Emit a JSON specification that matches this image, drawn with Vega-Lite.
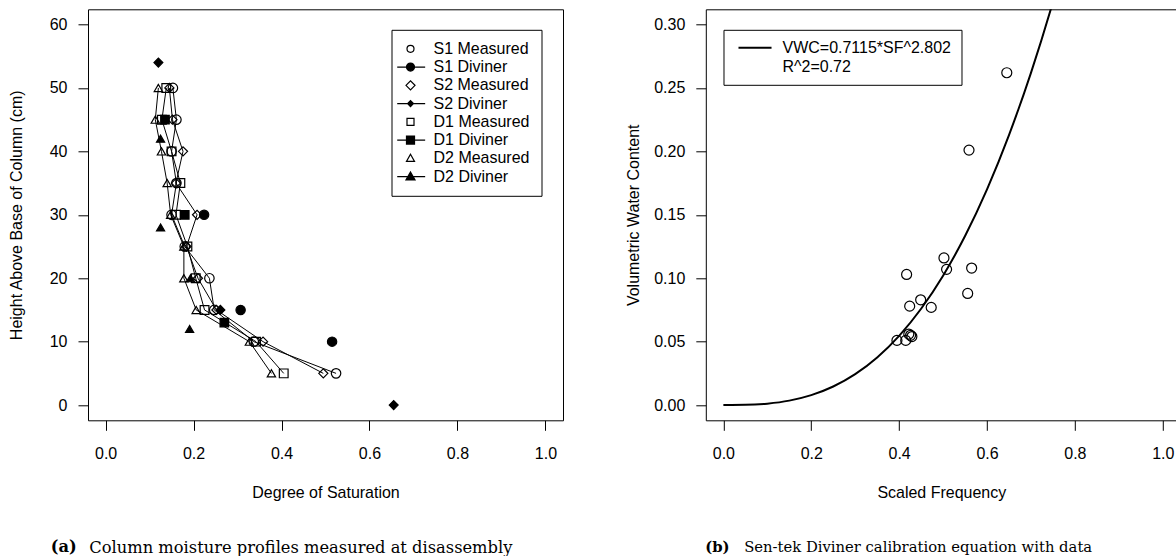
{
  "$schema": "https://vega.github.io/schema/vega-lite/v6.json",
  "background": "white",
  "padding": {"left": 7, "top": 8.3, "right": 0, "bottom": 0},
  "spacing": 60.8,
  "config": {
    "view": {"stroke": "black", "strokeWidth": 1},
    "font": "Liberation Sans",
    "axis": {"domain": false, "grid": false, "ticks": true, "tickColor": "black", "tickSize": 10, "tickWidth": 1, "labelColor": "black", "labelFont": "Liberation Sans", "labelFontSize": 16, "titleColor": "black", "titleFont": "Liberation Sans", "titleFontSize": 16, "titleFontWeight": "normal", "labelOverlap": false, "labelFlush": false, "domainColor": "black", "domainWidth": 1},
    "axisX": {"labelPadding": 15, "titlePadding": 23},
    "axisY": {"labelPadding": 11},
    "title": {"color": "black"}
  },
  "datasets": {
    "profiles": [
      {"series": "S1 Measured", "type": "Measured", "height": 50, "sat": 0.153},
      {"series": "S1 Measured", "type": "Measured", "height": 45, "sat": 0.161},
      {"series": "S1 Measured", "type": "Measured", "height": 40, "sat": 0.150},
      {"series": "S1 Measured", "type": "Measured", "height": 35, "sat": 0.161},
      {"series": "S1 Measured", "type": "Measured", "height": 30, "sat": 0.150},
      {"series": "S1 Measured", "type": "Measured", "height": 25, "sat": 0.180},
      {"series": "S1 Measured", "type": "Measured", "height": 20, "sat": 0.236},
      {"series": "S1 Measured", "type": "Measured", "height": 15, "sat": 0.247},
      {"series": "S1 Measured", "type": "Measured", "height": 10, "sat": 0.337},
      {"series": "S1 Measured", "type": "Measured", "height": 5, "sat": 0.524},
      {"series": "S2 Measured", "type": "Measured", "height": 50, "sat": 0.145},
      {"series": "S2 Measured", "type": "Measured", "height": 45, "sat": 0.152},
      {"series": "S2 Measured", "type": "Measured", "height": 40, "sat": 0.176},
      {"series": "S2 Measured", "type": "Measured", "height": 35, "sat": 0.160},
      {"series": "S2 Measured", "type": "Measured", "height": 30, "sat": 0.208},
      {"series": "S2 Measured", "type": "Measured", "height": 25, "sat": 0.184},
      {"series": "S2 Measured", "type": "Measured", "height": 20, "sat": 0.210},
      {"series": "S2 Measured", "type": "Measured", "height": 15, "sat": 0.252},
      {"series": "S2 Measured", "type": "Measured", "height": 10, "sat": 0.358},
      {"series": "S2 Measured", "type": "Measured", "height": 5, "sat": 0.495},
      {"series": "D1 Measured", "type": "Measured", "height": 50, "sat": 0.138},
      {"series": "D1 Measured", "type": "Measured", "height": 45, "sat": 0.128},
      {"series": "D1 Measured", "type": "Measured", "height": 40, "sat": 0.150},
      {"series": "D1 Measured", "type": "Measured", "height": 35, "sat": 0.170},
      {"series": "D1 Measured", "type": "Measured", "height": 30, "sat": 0.160},
      {"series": "D1 Measured", "type": "Measured", "height": 25, "sat": 0.186},
      {"series": "D1 Measured", "type": "Measured", "height": 20, "sat": 0.205},
      {"series": "D1 Measured", "type": "Measured", "height": 15, "sat": 0.225},
      {"series": "D1 Measured", "type": "Measured", "height": 10, "sat": 0.342},
      {"series": "D1 Measured", "type": "Measured", "height": 5, "sat": 0.405},
      {"series": "D2 Measured", "type": "Measured", "height": 50, "sat": 0.120},
      {"series": "D2 Measured", "type": "Measured", "height": 45, "sat": 0.113},
      {"series": "D2 Measured", "type": "Measured", "height": 40, "sat": 0.127},
      {"series": "D2 Measured", "type": "Measured", "height": 35, "sat": 0.140},
      {"series": "D2 Measured", "type": "Measured", "height": 30, "sat": 0.148},
      {"series": "D2 Measured", "type": "Measured", "height": 25, "sat": 0.178},
      {"series": "D2 Measured", "type": "Measured", "height": 20, "sat": 0.178},
      {"series": "D2 Measured", "type": "Measured", "height": 15, "sat": 0.206},
      {"series": "D2 Measured", "type": "Measured", "height": 10, "sat": 0.327},
      {"series": "D2 Measured", "type": "Measured", "height": 5, "sat": 0.377},
      {"series": "S1 Diviner", "type": "Diviner", "height": 30, "sat": 0.224},
      {"series": "S1 Diviner", "type": "Diviner", "height": 15, "sat": 0.307},
      {"series": "S1 Diviner", "type": "Diviner", "height": 10, "sat": 0.515},
      {"series": "S2 Diviner", "type": "Diviner", "height": 54, "sat": 0.120},
      {"series": "S2 Diviner", "type": "Diviner", "height": 15, "sat": 0.261},
      {"series": "S2 Diviner", "type": "Diviner", "height": 0, "sat": 0.655},
      {"series": "D1 Diviner", "type": "Diviner", "height": 45, "sat": 0.135},
      {"series": "D1 Diviner", "type": "Diviner", "height": 30, "sat": 0.180},
      {"series": "D1 Diviner", "type": "Diviner", "height": 13, "sat": 0.270},
      {"series": "D2 Diviner", "type": "Diviner", "height": 42, "sat": 0.125},
      {"series": "D2 Diviner", "type": "Diviner", "height": 28, "sat": 0.125},
      {"series": "D2 Diviner", "type": "Diviner", "height": 20, "sat": 0.193},
      {"series": "D2 Diviner", "type": "Diviner", "height": 12, "sat": 0.191}
    ],
    "curve": [
      {"sf": 0.00, "vwc": 0.0, "label": "VWC=0.7115*SF^2.802"},
      {"sf": 0.05, "vwc": 0.000161, "label": "VWC=0.7115*SF^2.802"},
      {"sf": 0.10, "vwc": 0.001123, "label": "VWC=0.7115*SF^2.802"},
      {"sf": 0.15, "vwc": 0.003496, "label": "VWC=0.7115*SF^2.802"},
      {"sf": 0.20, "vwc": 0.007828, "label": "VWC=0.7115*SF^2.802"},
      {"sf": 0.25, "vwc": 0.014628, "label": "VWC=0.7115*SF^2.802"},
      {"sf": 0.30, "vwc": 0.024382, "label": "VWC=0.7115*SF^2.802"},
      {"sf": 0.35, "vwc": 0.037552, "label": "VWC=0.7115*SF^2.802"},
      {"sf": 0.40, "vwc": 0.054600, "label": "VWC=0.7115*SF^2.802"},
      {"sf": 0.45, "vwc": 0.075938, "label": "VWC=0.7115*SF^2.802"},
      {"sf": 0.50, "vwc": 0.10202, "label": "VWC=0.7115*SF^2.802"},
      {"sf": 0.55, "vwc": 0.13326, "label": "VWC=0.7115*SF^2.802"},
      {"sf": 0.60, "vwc": 0.17005, "label": "VWC=0.7115*SF^2.802"},
      {"sf": 0.65, "vwc": 0.21280, "label": "VWC=0.7115*SF^2.802"},
      {"sf": 0.70, "vwc": 0.26190, "label": "VWC=0.7115*SF^2.802"},
      {"sf": 0.75, "vwc": 0.31777, "label": "VWC=0.7115*SF^2.802"},
      {"sf": 0.80, "vwc": 0.38075, "label": "VWC=0.7115*SF^2.802"}
    ],
    "calib": [
      {"sf": 0.645, "vwc": 0.262},
      {"sf": 0.559, "vwc": 0.201},
      {"sf": 0.502, "vwc": 0.116},
      {"sf": 0.508, "vwc": 0.107},
      {"sf": 0.565, "vwc": 0.108},
      {"sf": 0.417, "vwc": 0.103},
      {"sf": 0.556, "vwc": 0.088},
      {"sf": 0.449, "vwc": 0.083},
      {"sf": 0.424, "vwc": 0.078},
      {"sf": 0.473, "vwc": 0.077},
      {"sf": 0.395, "vwc": 0.051},
      {"sf": 0.415, "vwc": 0.051},
      {"sf": 0.422, "vwc": 0.056},
      {"sf": 0.426, "vwc": 0.055},
      {"sf": 0.429, "vwc": 0.054}
    ]
  },
  "hconcat": [
    {
      "title": {"text": "Column moisture profiles measured at disassembly", "orient": "bottom", "anchor": "start", "frame": "bounds", "dx": 81.6, "offset": -3.5, "baseline": "alphabetic", "font": "DejaVu Serif", "fontSize": 16.3, "fontWeight": "normal", "color": "black"},
      "vconcat": [
        {
          "width": 475,
          "height": 411,
          "data": {"name": "profiles"},
          "title": {"text": "(a)", "orient": "bottom", "anchor": "start", "frame": "bounds", "dx": 42.6, "offset": 52, "baseline": "alphabetic", "font": "DejaVu Serif", "fontSize": 16.3, "fontWeight": "bold", "color": "black"},
          "layer": [
            {
              "transform": [{"filter": "datum.type === 'Measured'"}],
              "mark": {"type": "line", "stroke": "black", "strokeWidth": 1, "clip": true},
              "encoding": {
                "x": {"field": "sat", "type": "quantitative", "title": "Degree of Saturation", "scale": {"domain": [-0.04, 1.04], "nice": false, "zero": false}, "axis": {"values": [0, 0.2, 0.4, 0.6, 0.8, 1.0], "format": ".1f"}},
                "y": {"field": "height", "type": "quantitative", "title": "Height Above Base of Column (cm)", "scale": {"domain": [-2.4, 62.4], "nice": false, "zero": false}, "axis": {"values": [0, 10, 20, 30, 40, 50, 60], "format": "d", "titlePadding": 25}},
                "detail": {"field": "series", "type": "nominal"},
                "order": {"field": "height", "type": "quantitative"}
              }
            },
            {
              "mark": {"type": "point", "stroke": "black", "strokeWidth": 1.2, "opacity": 1},
              "encoding": {
                "x": {"field": "sat", "type": "quantitative"},
                "y": {"field": "height", "type": "quantitative"},
                "shape": {"field": "series", "type": "nominal", "legend": null, "scale": {"domain": ["S1 Measured", "S1 Diviner", "S2 Measured", "S2 Diviner", "D1 Measured", "D1 Diviner", "D2 Measured", "D2 Diviner"], "range": ["circle", "circle", "diamond", "diamond", "square", "square", "triangle-up", "triangle-up"]}},
                "fill": {"field": "series", "type": "nominal", "legend": null, "scale": {"domain": ["S1 Measured", "S1 Diviner", "S2 Measured", "S2 Diviner", "D1 Measured", "D1 Diviner", "D2 Measured", "D2 Diviner"], "range": ["transparent", "black", "transparent", "black", "transparent", "black", "transparent", "black"]}},
                "size": {"field": "series", "type": "ordinal", "legend": null, "scale": {"domain": ["S1 Measured", "S1 Diviner", "S2 Measured", "S2 Diviner", "D1 Measured", "D1 Diviner", "D2 Measured", "D2 Diviner"], "range": [90, 66, 164, 50, 77, 66, 117, 120]}}
              }
            },
            {
              "transform": [{"filter": "datum.height > 1000"}],
              "mark": {"type": "point", "stroke": "black", "strokeWidth": 1.2},
              "encoding": {
                "x": {"field": "sat", "type": "quantitative"},
                "y": {"field": "height", "type": "quantitative"},
                "shape": {"field": "series", "type": "nominal", "title": "Series",
                  "scale": {"domain": ["S1 Measured", "S1 Diviner", "S2 Measured", "S2 Diviner", "D1 Measured", "D1 Diviner", "D2 Measured", "D2 Diviner"],
                    "range": [
                      "M0.48,0A0.48,0.48,0,1,1,-0.48,0A0.48,0.48,0,1,1,0.48,0Z",
                      "M-1.82,0H2.01M0.55,0A0.55,0.55,0,1,1,-0.55,0A0.55,0.55,0,1,1,0.55,0Z",
                      "M-0.62,0L0,-0.62L0.62,0L0,0.62Z",
                      "M-1.82,0H2.01M-0.41,0L0,-0.41L0.41,0L0,0.41Z",
                      "M-0.48,-0.48H0.48V0.48H-0.48Z",
                      "M-1.82,0H2.01M-0.55,-0.55H0.55V0.55H-0.55Z",
                      "M0,-0.55L0.55,0.42L-0.55,0.42Z",
                      "M-1.82,0H2.01M0,-0.62L0.62,0.46L-0.62,0.46Z"
                    ]},
                  "legend": {"orient": "none", "legendX": 303.5, "legendY": 20.5, "title": null, "padding": 11, "rowPadding": 2.25, "symbolSize": 213, "symbolStrokeWidth": 1.2, "symbolOpacity": 1, "labelFont": "Liberation Sans", "labelFontSize": 16, "labelColor": "black", "labelOffset": 15, "strokeColor": "black", "fillColor": "white", "cornerRadius": 0, "labelLimit": 300}},
                "fill": {"field": "series", "type": "nominal", "title": "Series",
                  "scale": {"domain": ["S1 Measured", "S1 Diviner", "S2 Measured", "S2 Diviner", "D1 Measured", "D1 Diviner", "D2 Measured", "D2 Diviner"], "range": ["white", "black", "white", "black", "white", "black", "white", "black"]},
                  "legend": {"orient": "none", "legendX": 303.5, "legendY": 20.5, "title": null, "padding": 11, "rowPadding": 2.25, "symbolSize": 213, "symbolStrokeWidth": 1.2, "symbolOpacity": 1, "labelFont": "Liberation Sans", "labelFontSize": 16, "labelColor": "black", "labelOffset": 15, "strokeColor": "black", "fillColor": "white", "cornerRadius": 0, "labelLimit": 300}},
                "stroke": {"field": "series", "type": "nominal", "title": "Series",
                  "scale": {"domain": ["S1 Measured", "S1 Diviner", "S2 Measured", "S2 Diviner", "D1 Measured", "D1 Diviner", "D2 Measured", "D2 Diviner"], "range": ["black", "black", "black", "black", "black", "black", "black", "black"]},
                  "legend": {"orient": "none", "legendX": 303.5, "legendY": 20.5, "title": null, "padding": 11, "rowPadding": 2.25, "symbolSize": 213, "symbolStrokeWidth": 1.2, "symbolOpacity": 1, "labelFont": "Liberation Sans", "labelFontSize": 16, "labelColor": "black", "labelOffset": 15, "strokeColor": "black", "fillColor": "white", "cornerRadius": 0, "labelLimit": 300}}
              }
            }
          ],
          "resolve": {"scale": {"shape": "independent", "fill": "independent", "size": "independent", "stroke": "independent"}}
        }
      ]
    },
    {
      "title": {"text": "Sen-tek Diviner calibration equation with data", "orient": "bottom", "anchor": "start", "frame": "bounds", "dx": 118.5, "offset": -3.3, "baseline": "alphabetic", "font": "DejaVu Serif", "fontSize": 14.8, "fontWeight": "normal", "color": "black"},
      "vconcat": [
        {
          "width": 471,
          "height": 411,
          "view": {"stroke": null},
          "title": {"text": "(b)", "orient": "bottom", "anchor": "start", "frame": "bounds", "dx": 79.5, "offset": 52, "baseline": "alphabetic", "font": "DejaVu Serif", "fontSize": 14.8, "fontWeight": "bold", "color": "black"},
          "layer": [
            {
              "data": {"name": "curve"},
              "mark": {"type": "line", "strokeWidth": 2, "clip": true, "interpolate": "monotone"},
              "encoding": {
                "x": {"field": "sf", "type": "quantitative", "title": "Scaled Frequency", "scale": {"domain": [-0.04, 1.0319], "nice": false, "zero": false}, "axis": {"values": [0, 0.2, 0.4, 0.6, 0.8, 1.0], "format": ".1f", "domain": true}},
                "y": {"field": "vwc", "type": "quantitative", "title": "Volumetric Water Content", "scale": {"domain": [-0.012, 0.312], "nice": false, "zero": false}, "axis": {"values": [0, 0.05, 0.1, 0.15, 0.2, 0.25, 0.3], "format": ".2f", "domain": true, "titlePadding": 12}},
                "stroke": {"field": "label", "type": "nominal", "scale": {"domain": ["VWC=0.7115*SF^2.802", "R^2=0.72"], "range": ["black", "transparent"]},
                  "legend": {"orient": "none", "legendX": 635.5, "legendY": 20.5, "title": null, "padding": 10, "rowPadding": 3, "symbolType": "M-0.43,0H4.29", "symbolSize": 196, "symbolStrokeWidth": 2, "labelFont": "Liberation Sans", "labelFontSize": 16, "labelColor": "black", "labelOffset": 33, "strokeColor": "black", "fillColor": "white", "cornerRadius": 0, "labelLimit": 400}}
              }
            },
            {
              "data": {"name": "calib"},
              "mark": {"type": "point", "shape": "circle", "size": 100, "stroke": "black", "strokeWidth": 1.2, "fill": "transparent", "opacity": 1},
              "encoding": {
                "x": {"field": "sf", "type": "quantitative", "axis": {"orient": "top", "ticks": false, "labels": false, "domain": true, "title": null}},
                "y": {"field": "vwc", "type": "quantitative"}
              }
            }
          ],
          "resolve": {"axis": {"x": "independent"}}
        }
      ]
    }
  ]
}
